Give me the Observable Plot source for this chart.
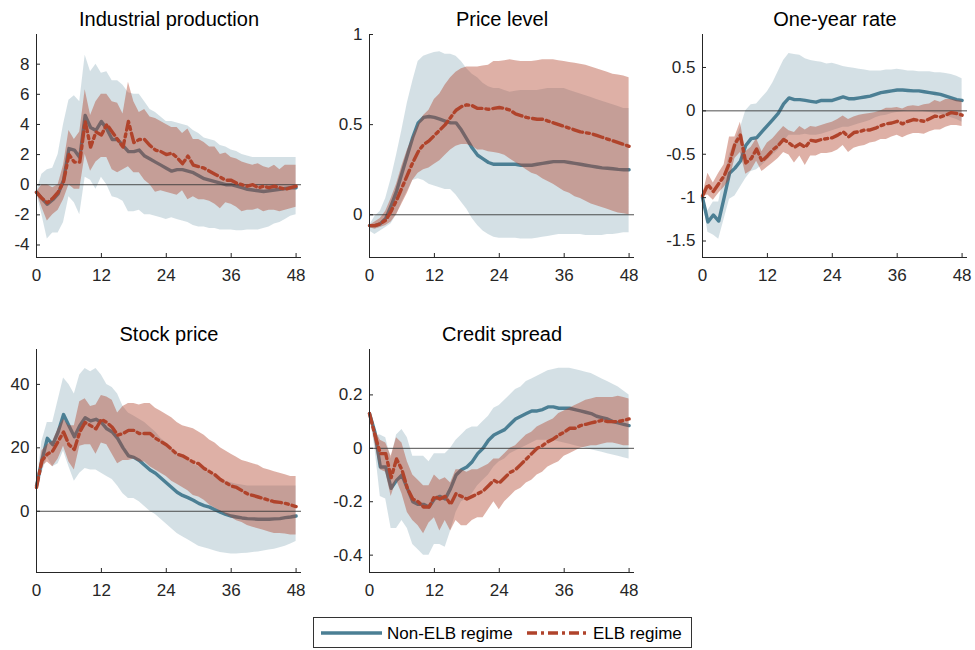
<!DOCTYPE html>
<html><head><meta charset="utf-8">
<script src="https://cdn.jsdelivr.net/npm/d3@7"></script>
<script src="https://cdn.jsdelivr.net/npm/@observablehq/plot@0.6"></script>
<style>
body{margin:0;background:#fff;}
#root{position:relative;width:975px;height:650px;overflow:hidden;background:#fff;font-family:"Liberation Sans",Arial,Helvetica,sans-serif;}
.panel{position:absolute;}
#legend{position:absolute;left:313px;top:617px;width:379px;height:31px;border:1px solid #333;box-sizing:border-box;background:#fff;}
</style></head><body><div id="root"></div>
<script>
// Horizon (months)
const months = d3.range(0, 49);
const xTicks = [0, 12, 24, 36, 48];
const titles = ["Industrial production", "Price level", "One-year rate", "Stock price", "Credit spread"];
const legendLabels = ["Non-ELB regime", "ELB regime"];

// Industrial production
const ipNon   = [-0.5,-0.9,-1.3,-1.0,-0.6,0.3,2.4,2.3,1.8,4.6, 3.8,3.6,4.2,3.7,3.0,3.0,2.6,2.2,2.2,2.3, 1.9,1.7,1.5,1.3,1.1,0.9,1.0,1.0,0.9,0.8, 0.6,0.4,0.3,0.2,0.1,0.0,0.0,-0.1,-0.2,-0.3, -0.35,-0.4,-0.45,-0.4,-0.35,-0.3,-0.25,-0.2,-0.2];
const ipNonHi = [-0.5,0.7,1.0,1.1,2.0,4.0,5.6,5.9,5.5,8.6, 7.5,8.0,7.4,7.5,6.9,6.9,6.6,6.1,6.0,6.0, 5.5,5.0,4.8,4.5,4.2,4.2,4.1,4.0,3.9,3.6, 3.4,3.1,3.0,2.9,2.6,2.5,2.3,2.2,2.0,1.9, 1.8,1.8,1.8,1.8,1.8,1.8,1.8,1.8,1.8];
const ipNonLo = [-0.5,-2.0,-3.6,-3.2,-3.2,-2.5,-0.8,-1.2,-2.0,0.5, 0.3,-0.3,0.5,0.0,-0.8,-0.9,-1.1,-1.8,-1.8,-1.7, -2.0,-2.0,-2.1,-2.2,-2.3,-2.2,-2.3,-2.4,-2.5,-2.7, -2.8,-2.8,-2.9,-2.9,-3.0,-3.0,-3.0,-3.05,-3.05,-3.0, -3.0,-3.0,-2.9,-2.8,-2.6,-2.5,-2.3,-2.1,-2.0];
const ipElb   = [-0.5,-0.9,-1.2,-0.9,-0.5,0.2,2.0,1.5,1.5,4.2, 2.5,3.5,3.3,4.0,3.5,3.0,2.5,4.2,2.8,3.0, 3.0,2.6,2.3,2.2,2.0,2.1,1.8,1.4,1.9,1.3, 1.2,1.1,0.9,0.7,0.5,0.3,0.3,0.1,0.0,-0.1, 0.0,-0.2,-0.1,-0.2,-0.1,-0.2,-0.3,-0.2,-0.1];
const ipElbHi = [-0.5,0.0,0.0,-0.2,0.0,1.3,3.6,3.0,3.5,6.3, 4.6,5.5,6.0,6.0,5.5,5.4,4.7,6.8,5.5,4.8, 5.0,4.5,4.4,4.2,4.0,3.8,3.8,3.4,3.7,3.0, 3.0,2.8,2.5,2.5,2.0,2.1,1.8,1.7,1.5,1.4, 1.3,1.4,1.2,1.1,1.3,1.0,1.3,1.3,1.3];
const ipElbLo = [-0.5,-1.5,-2.4,-2.0,-1.7,-1.0,0.0,-0.3,-0.3,2.0, 0.9,1.5,1.8,1.8,1.0,0.8,1.0,1.2,0.8,0.8, 0.3,0.0,-0.5,-0.4,-0.5,-0.6,-0.7,-0.4,-1.0,-0.8, -1.0,-1.0,-1.1,-1.3,-1.6,-1.2,-1.3,-1.5,-1.8,-1.7, -1.7,-1.6,-1.8,-1.7,-1.7,-1.8,-1.7,-1.6,-1.5];

// Price level
const plNon   = [-0.06,-0.06,-0.05,-0.02,0.05,0.13,0.23,0.33,0.43,0.51, 0.54,0.545,0.54,0.53,0.52,0.51,0.51,0.47,0.42,0.37, 0.33,0.31,0.29,0.28,0.28,0.28,0.28,0.28,0.275,0.275, 0.275,0.28,0.285,0.29,0.295,0.295,0.295,0.29,0.285,0.28, 0.275,0.27,0.265,0.26,0.258,0.255,0.252,0.25,0.25];
const plNonHi = [-0.06,-0.01,0.02,0.09,0.2,0.33,0.47,0.62,0.74,0.85, 0.88,0.89,0.90,0.905,0.89,0.89,0.88,0.85,0.81,0.78, 0.76,0.73,0.71,0.70,0.70,0.69,0.68,0.685,0.69,0.69, 0.69,0.69,0.695,0.70,0.70,0.70,0.70,0.69,0.68,0.67, 0.66,0.65,0.64,0.63,0.62,0.61,0.60,0.59,0.59];
const plNonLo = [-0.09,-0.11,-0.09,-0.07,-0.05,0.0,0.07,0.13,0.19,0.20, 0.19,0.17,0.16,0.15,0.14,0.14,0.11,0.07,0.03,-0.02, -0.06,-0.09,-0.11,-0.125,-0.13,-0.13,-0.13,-0.13,-0.135,-0.135, -0.135,-0.13,-0.125,-0.12,-0.115,-0.11,-0.11,-0.11,-0.11,-0.11, -0.115,-0.115,-0.115,-0.115,-0.11,-0.11,-0.105,-0.10,-0.10];
const plElb   = [-0.06,-0.06,-0.05,-0.03,0.02,0.08,0.15,0.22,0.29,0.35, 0.39,0.41,0.44,0.47,0.50,0.54,0.58,0.60,0.61,0.605, 0.59,0.59,0.585,0.59,0.595,0.59,0.58,0.56,0.55,0.54, 0.535,0.53,0.53,0.52,0.51,0.50,0.49,0.48,0.47,0.46, 0.455,0.45,0.44,0.43,0.42,0.41,0.40,0.39,0.38];
const plElbHi = [-0.06,-0.04,-0.02,0.02,0.09,0.17,0.27,0.36,0.43,0.50, 0.55,0.58,0.64,0.67,0.72,0.76,0.79,0.81,0.82,0.82, 0.82,0.825,0.83,0.85,0.85,0.855,0.86,0.855,0.85,0.85, 0.85,0.855,0.86,0.86,0.86,0.855,0.85,0.845,0.84,0.835, 0.83,0.82,0.81,0.80,0.79,0.78,0.775,0.77,0.76];
const plElbLo = [-0.07,-0.08,-0.07,-0.06,-0.04,0.0,0.06,0.12,0.19,0.23, 0.25,0.26,0.28,0.30,0.33,0.36,0.38,0.39,0.39,0.38, 0.36,0.36,0.35,0.345,0.34,0.33,0.31,0.29,0.27,0.25, 0.23,0.22,0.20,0.185,0.17,0.15,0.13,0.12,0.10,0.09, 0.075,0.06,0.05,0.04,0.03,0.02,0.01,0.005,0.0];

// One-year rate
const oyNon   = [-1.0,-1.28,-1.2,-1.27,-1.0,-0.72,-0.66,-0.58,-0.40,-0.32, -0.31,-0.24,-0.17,-0.10,-0.03,0.08,0.15,0.13,0.13,0.12, 0.11,0.10,0.12,0.12,0.12,0.14,0.16,0.14,0.14,0.15, 0.16,0.17,0.19,0.21,0.22,0.23,0.24,0.24,0.235,0.23, 0.23,0.22,0.21,0.20,0.19,0.17,0.15,0.13,0.12];
const oyNonHi = [-1.0,-1.15,-1.05,-1.05,-0.75,-0.5,-0.35,-0.2,0.0,0.07, 0.08,0.15,0.22,0.32,0.45,0.58,0.66,0.65,0.64,0.60, 0.58,0.57,0.56,0.54,0.55,0.53,0.51,0.50,0.49,0.48, 0.47,0.46,0.46,0.46,0.47,0.47,0.48,0.47,0.46,0.46, 0.45,0.45,0.45,0.44,0.44,0.43,0.42,0.40,0.37];
const oyNonLo = [-1.0,-1.4,-1.43,-1.48,-1.25,-1.02,-0.98,-0.88,-0.78,-0.70, -0.68,-0.63,-0.57,-0.51,-0.45,-0.36,-0.28,-0.28,-0.28,-0.27, -0.28,-0.28,-0.27,-0.25,-0.23,-0.21,-0.19,-0.19,-0.17,-0.15, -0.13,-0.11,-0.08,-0.06,-0.05,-0.03,-0.02,-0.01,0.0,0.0, 0.0,-0.01,-0.02,-0.03,-0.04,-0.06,-0.08,-0.1,-0.13];
const oyElb   = [-0.98,-0.85,-0.93,-0.84,-0.75,-0.6,-0.38,-0.28,-0.60,-0.55, -0.44,-0.58,-0.52,-0.45,-0.40,-0.33,-0.37,-0.42,-0.38,-0.42, -0.34,-0.35,-0.33,-0.32,-0.31,-0.28,-0.24,-0.30,-0.25,-0.24, -0.22,-0.22,-0.20,-0.17,-0.15,-0.14,-0.12,-0.15,-0.12,-0.10, -0.11,-0.12,-0.09,-0.06,-0.07,-0.05,-0.02,-0.03,-0.05];
const oyElbHi = [-0.98,-0.72,-0.83,-0.72,-0.62,-0.30,-0.30,-0.13,-0.47,-0.42, -0.32,-0.47,-0.37,-0.32,-0.25,-0.18,-0.23,-0.25,-0.18,-0.22, -0.18,-0.19,-0.17,-0.15,-0.13,-0.10,-0.06,-0.10,-0.07,-0.05, -0.04,-0.03,-0.02,0.0,0.03,0.03,0.04,0.02,0.05,0.06, 0.05,0.07,0.08,0.12,0.10,0.13,0.13,0.12,0.11];
const oyElbLo = [-0.98,-0.97,-1.03,-0.95,-0.88,-0.80,-0.55,-0.48,-0.73,-0.69, -0.58,-0.70,-0.65,-0.60,-0.55,-0.48,-0.51,-0.60,-0.52,-0.63, -0.52,-0.52,-0.49,-0.49,-0.48,-0.45,-0.40,-0.48,-0.43,-0.41, -0.40,-0.37,-0.36,-0.33,-0.33,-0.30,-0.28,-0.31,-0.28,-0.26, -0.26,-0.27,-0.24,-0.22,-0.22,-0.19,-0.17,-0.17,-0.18];

// Stock price
const spNon   = [8,16,23,21,25,30.5,27,23.5,27,29.5, 28.5,29,28,26,25,23,20,17.5,17,16, 14.5,13,12,10.5,9,7.5,6,5,4.3,3.5, 2.5,1.8,1.3,0.5,-0.3,-1,-1.5,-1.8,-2.1,-2.3, -2.4,-2.5,-2.5,-2.5,-2.4,-2.3,-2.0,-1.8,-1.5];
const spNonHi = [8,22,28,28,35,42,40,37,43,45, 44,45,43,40,39,37,33,31,30,29, 28,26.5,25,23,21.5,20,18.5,17,16,15, 14,13,12,11,10,9.5,9,8.5,8.3,8, 8,8,8,8,8,8,8,8,8];
const spNonLo = [8,12,17,14,15,19,14,9.5,12,13.5, 13,13,12,11,10,8,5.5,4,4,3, 1.5,0,-1,-2.5,-4,-5.5,-7,-8,-9,-10, -11,-11.5,-12,-12.5,-13,-13.2,-13.5,-13.5,-13.3,-13.2, -13,-12.8,-12.5,-12.2,-12,-11.5,-11,-10.3,-9.5];
const spElb   = [7.5,16,18,19,22,25,21,19.5,25,28, 27,26,29,28,26.5,24,24.5,25.5,25.5,24.5, 24.5,24.5,23,22,21,19.5,18,17.5,16.5,15.5, 15,13.5,12.5,11.5,10,9,8,7.5,6.5,5.5, 5,4.5,4,3.5,3,2.8,2.5,2,1.5];
const spElbHi = [7.5,19,21,22,26,29,27,27,34.5,35.5, 33,33.5,36.5,36,35,31,33,34,34,33.5, 34,34,32.5,31.5,30.5,29.5,28,27,26.5,26, 25,24,22.5,21.5,20,19,18,17,16,15.5, 15,14.5,13.5,13,12.5,12,11.5,11,11];
const spElbLo = [7.5,14,15.5,14,16.5,20.5,15.5,13,20.5,21, 21,18,21.5,21,18,15,16,16,16.5,15.5, 15.5,14,13,12,11,9.5,8.5,7.5,6.5,5, 4.5,3.5,2,1,0,-1,-2,-3,-3.5,-4.5, -5,-5.5,-6,-6.5,-7,-7,-7.2,-7.5,-7.5];

// Credit spread
const csNon   = [0.13,0.06,-0.07,-0.07,-0.15,-0.12,-0.10,-0.15,-0.20,-0.21, -0.21,-0.22,-0.19,-0.18,-0.19,-0.15,-0.10,-0.08,-0.07,-0.05, -0.02,0.0,0.03,0.05,0.06,0.07,0.09,0.11,0.12,0.13, 0.14,0.14,0.145,0.155,0.155,0.15,0.15,0.15,0.145,0.14, 0.135,0.13,0.12,0.115,0.11,0.10,0.095,0.09,0.085];
const csNonHi = [0.13,0.05,0.05,0.04,-0.04,0.05,0.07,0.04,-0.03,-0.03, -0.03,-0.05,-0.02,-0.02,-0.02,0.0,0.03,0.05,0.07,0.08, 0.08,0.10,0.12,0.15,0.16,0.18,0.20,0.22,0.23,0.25, 0.26,0.27,0.28,0.29,0.295,0.30,0.30,0.30,0.295,0.29, 0.285,0.28,0.27,0.26,0.25,0.24,0.23,0.215,0.20];
const csNonLo = [0.13,0.0,-0.18,-0.19,-0.30,-0.30,-0.27,-0.30,-0.36,-0.38, -0.40,-0.40,-0.36,-0.36,-0.37,-0.31,-0.24,-0.20,-0.19,-0.17, -0.14,-0.12,-0.10,-0.07,-0.05,-0.04,-0.02,-0.01,0.0,0.01, 0.02,0.03,0.03,0.03,0.03,0.025,0.02,0.015,0.01,0.005, 0.0,-0.005,-0.01,-0.015,-0.02,-0.025,-0.03,-0.035,-0.04];
const csElb   = [0.13,0.05,-0.02,-0.02,-0.11,-0.04,-0.08,-0.15,-0.19,-0.20, -0.22,-0.22,-0.18,-0.19,-0.18,-0.21,-0.17,-0.18,-0.19,-0.18, -0.17,-0.16,-0.14,-0.12,-0.13,-0.11,-0.09,-0.08,-0.06,-0.04, -0.02,0.0,0.01,0.025,0.035,0.05,0.06,0.075,0.075,0.085, 0.09,0.095,0.10,0.105,0.10,0.10,0.10,0.105,0.11];
const csElbHi = [0.13,0.07,0.03,0.02,-0.03,0.04,0.02,-0.05,-0.10,-0.12, -0.14,-0.14,-0.10,-0.12,-0.11,-0.13,-0.08,-0.08,-0.09,-0.08, -0.08,-0.07,-0.06,-0.04,-0.04,-0.02,0.0,0.01,0.03,0.05, 0.06,0.08,0.09,0.10,0.11,0.13,0.14,0.15,0.16,0.17, 0.18,0.185,0.19,0.19,0.19,0.19,0.195,0.19,0.185];
const csElbLo = [0.13,0.02,-0.08,-0.09,-0.18,-0.12,-0.17,-0.24,-0.27,-0.29, -0.32,-0.28,-0.26,-0.31,-0.27,-0.31,-0.27,-0.29,-0.29,-0.27, -0.26,-0.26,-0.23,-0.20,-0.23,-0.20,-0.18,-0.16,-0.15,-0.13, -0.12,-0.10,-0.09,-0.07,-0.06,-0.05,-0.03,-0.02,-0.01,0.0, 0.005,0.01,0.01,0.015,0.02,0.02,0.015,0.01,0.01];

// Axis ranges and ticks
const yDomains = [[-4.83, 9.97], [-0.237, 1.0], [-1.69, 0.88], [-19.3, 51], [-0.465, 0.37]];
const yTicks = [[-4,-2,0,2,4,6,8], [0,0.5,1], [-1.5,-1,-0.5,0,0.5], [0,20,40], [-0.4,-0.2,0,0.2]];

const series = [
  [ipNon, ipNonLo, ipNonHi, ipElb, ipElbLo, ipElbHi],
  [plNon, plNonLo, plNonHi, plElb, plElbLo, plElbHi],
  [oyNon, oyNonLo, oyNonHi, oyElb, oyElbLo, oyElbHi],
  [spNon, spNonLo, spNonHi, spElb, spElbLo, spElbHi],
  [csNon, csNonLo, csNonHi, csElb, csElbLo, csElbHi]
];

// Layout (plot-area left/top in page pixels)
const plotLefts = [35.7, 369, 701.7, 35.7, 369];
const plotTops = [34, 34, 34, 349, 349];
const plotW = 265, plotH = 223;
const mL = 45, mR = 8, mT = 34, mB = 36;

const BLUE = "#4b7f94", RED = "#b0432b", AX = "#262626";
const FONT = "'Liberation Sans', Arial, Helvetica, sans-serif";
const root = document.getElementById("root");

series.forEach((s, p) => {
  const [non, nonLo, nonHi, elb, elbLo, elbHi] = s;
  const rows = months.map((m, i) => ({m, non: non[i], nonLo: nonLo[i], nonHi: nonHi[i], elb: elb[i], elbLo: elbLo[i], elbHi: elbHi[i]}));
  const chart = Plot.plot({
    width: mL + plotW + mR,
    height: mT + plotH + mB,
    marginLeft: mL, marginRight: mR, marginTop: mT, marginBottom: mB,
    style: {fontFamily: FONT, fontSize: "17px", background: "transparent", overflow: "visible"},
    x: {domain: [0, 49]},
    y: {domain: yDomains[p]},
    marks: [
      Plot.areaY(rows, {x: "m", y1: "nonLo", y2: "nonHi", fill: BLUE, fillOpacity: 0.24}),
      Plot.line(rows, {x: "m", y: "non", stroke: BLUE, strokeWidth: 3.4}),
      Plot.areaY(rows, {x: "m", y1: "elbLo", y2: "elbHi", fill: RED, fillOpacity: 0.42}),
      Plot.ruleY([0], {stroke: "#3a3a3a", strokeWidth: 0.9}),
      Plot.line(rows, {x: "m", y: "elb", stroke: RED, strokeWidth: 3.4, strokeDasharray: "10,4,3,4"}),
      Plot.ruleX([0], {stroke: AX, strokeWidth: 1}),
      Plot.ruleY([yDomains[p][0]], {stroke: AX, strokeWidth: 1}),
      Plot.axisX({ticks: xTicks, tickSize: -4, tickPadding: 15, fontSize: 17, color: AX, tickFormat: d => String(d), label: null}),
      Plot.axisY({ticks: yTicks[p], tickSize: -4, tickPadding: 11, fontSize: 17, color: AX, tickFormat: d => String(d), label: null}),
      Plot.text([titles[p]], {frameAnchor: "top", lineAnchor: "bottom", dy: -9, fontSize: 20, fill: "#000"})
    ]
  });
  chart.classList.add("panel");
  chart.style.left = (plotLefts[p] - mL) + "px";
  chart.style.top = (plotTops[p] - mT) + "px";
  root.appendChild(chart);
});

// Legend
const legend = d3.select(root).append("div").attr("id", "legend");
const lsvg = legend.append("svg").attr("width", 377).attr("height", 29);
const legendItems = [
  {label: legendLabels[0], color: BLUE, dash: null, x: 7},
  {label: legendLabels[1], color: RED, dash: "10,4,3,4", x: 213}
];
legendItems.forEach(d => {
  lsvg.append("line").attr("x1", d.x).attr("x2", d.x + 61).attr("y1", 15).attr("y2", 15)
    .attr("stroke", d.color).attr("stroke-width", 3.4).attr("stroke-dasharray", d.dash);
  lsvg.append("text").attr("x", d.x + 66).attr("y", 21).attr("font-size", 17)
    .attr("font-family", FONT).attr("fill", "#000").text(d.label);
});
</script>
</body></html>
